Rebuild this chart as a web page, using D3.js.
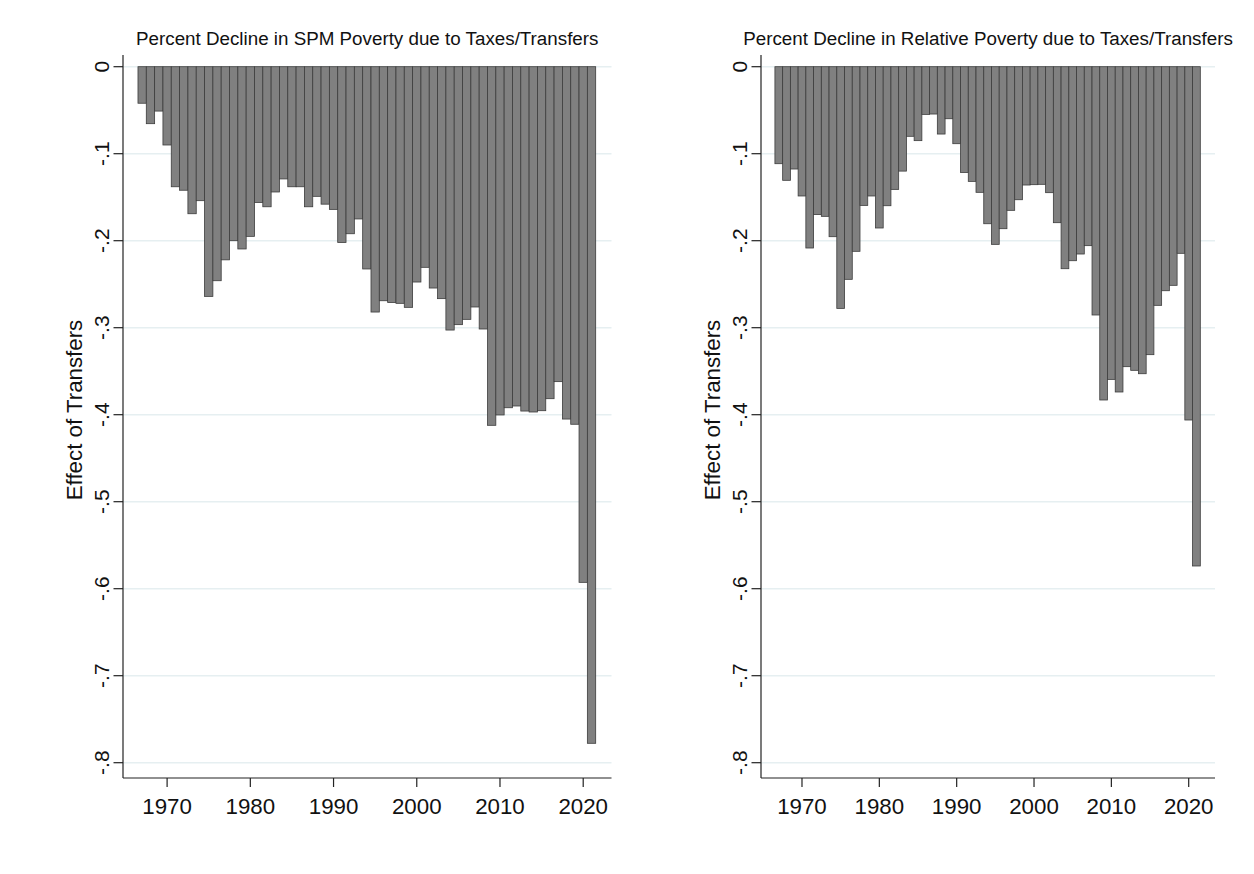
<!DOCTYPE html>
<html><head><meta charset="utf-8">
<script src="https://cdn.jsdelivr.net/npm/d3@7"></script>
<style>body{margin:0;background:#fff}svg{display:block;font-family:"Liberation Sans",Arial,sans-serif}</style>
</head><body><svg id="c" width="1254" height="874"></svg>
<script>
const years = d3.range(1967, 2022);
const spmValues = [-0.042,-0.0655,-0.051,-0.090,-0.138,-0.142,-0.169,-0.154,-0.264,-0.246,
 -0.222,-0.200,-0.2095,-0.195,-0.156,-0.161,-0.144,-0.129,-0.138,-0.138,
 -0.161,-0.149,-0.158,-0.164,-0.202,-0.192,-0.175,-0.2325,-0.282,-0.269,
 -0.271,-0.272,-0.2766,-0.2475,-0.2306,-0.2544,-0.2666,-0.3027,-0.2965,-0.2904,
 -0.2762,-0.3015,-0.4122,-0.4003,-0.392,-0.390,-0.3958,-0.3969,-0.3954,-0.3816,
 -0.362,-0.405,-0.411,-0.5927,-0.7777];
const relValues = [-0.1115,-0.1306,-0.1176,-0.1486,-0.2084,-0.170,-0.172,-0.1954,-0.2778,-0.2444,
 -0.2122,-0.1594,-0.1486,-0.1854,-0.1598,-0.141,-0.120,-0.080,-0.085,-0.0548,
 -0.0544,-0.0774,-0.0598,-0.0885,-0.1215,-0.1318,-0.1444,-0.1805,-0.2042,-0.1862,
 -0.1651,-0.1529,-0.136,-0.1356,-0.1352,-0.1448,-0.1793,-0.2322,-0.223,-0.2153,
 -0.2057,-0.2854,-0.3831,-0.3594,-0.3739,-0.3448,-0.349,-0.3529,-0.331,-0.2743,
 -0.2575,-0.2513,-0.2145,-0.4061,-0.5739];
const yTicks = [0,-0.1,-0.2,-0.3,-0.4,-0.5,-0.6,-0.7,-0.8];
const yTickLabels = ["0","-.1","-.2","-.3","-.4","-.5","-.6","-.7","-.8"];
const xTicks = [1970,1980,1990,2000,2010,2020];
const titles = ["Percent Decline in SPM Poverty due to Taxes/Transfers","Percent Decline in Relative Poverty due to Taxes/Transfers"];
const yTitle = "Effect of Transfers";

const svg = d3.select("#c");
const panels = [
  {vals: spmValues, title: titles[0], x0: 123, x1: 611.5},
  {vals: relValues, title: titles[1], x0: 761, x1: 1215}
];
const yTop = 55, yBottom = 778;
const y = d3.scaleLinear().domain([0,-0.8]).range([66.7,762.7]);

panels.forEach(p => {
  const x = d3.scaleLinear().domain([1964.7, 2023.4]).range([p.x0, p.x1]);
  const g = svg.append("g");
  g.selectAll("line.grid").data(yTicks).join("line")
    .attr("x1", p.x0).attr("x2", p.x1)
    .attr("y1", d => y(d)).attr("y2", d => y(d))
    .attr("stroke", "#e6eff1").attr("stroke-width", 1.5);
  g.selectAll("rect.bar").data(years.map((yr,i)=>({yr, v:p.vals[i]}))).join("rect")
    .attr("x", d => x(d.yr-0.5)).attr("width", d => x(d.yr+0.5)-x(d.yr-0.5))
    .attr("y", y(0)).attr("height", d => y(d.v)-y(0))
    .attr("fill", "#808080").attr("stroke", "#3c3c3c").attr("stroke-width", 0.8);
  g.append("line").attr("x1", p.x0).attr("x2", p.x0).attr("y1", yTop).attr("y2", yBottom)
    .attr("stroke", "#222").attr("stroke-width", 1.2);
  g.selectAll("line.yt").data(yTicks).join("line")
    .attr("x1", p.x0-9.5).attr("x2", p.x0).attr("y1", d=>y(d)).attr("y2", d=>y(d))
    .attr("stroke", "#222").attr("stroke-width", 1.2);
  g.selectAll("text.yl").data(yTicks).join("text")
    .attr("transform", d => `translate(${p.x0-14.5},${y(d)}) rotate(-90)`)
    .attr("text-anchor", "middle").attr("font-size", 21).attr("fill", "#111")
    .text((d,i) => yTickLabels[i]);
  g.append("line").attr("x1", p.x0).attr("x2", p.x1).attr("y1", yBottom).attr("y2", yBottom)
    .attr("stroke", "#222").attr("stroke-width", 1.2);
  g.selectAll("line.xt").data(xTicks).join("line")
    .attr("x1", d=>x(d)).attr("x2", d=>x(d)).attr("y1", yBottom).attr("y2", yBottom+9)
    .attr("stroke", "#222").attr("stroke-width", 1.2);
  g.selectAll("text.xl").data(xTicks).join("text")
    .attr("x", d=>x(d)).attr("y", 814)
    .attr("text-anchor", "middle").attr("font-size", 22.3).attr("fill", "#111")
    .text(d => d);
  g.append("text").attr("x", (p.x0+p.x1)/2).attr("y", 45)
    .attr("text-anchor", "middle").attr("font-size", 18.8).attr("fill", "#111").text(p.title);
  g.append("text").attr("transform", `translate(${p.x0-41},410) rotate(-90)`)
    .attr("text-anchor", "middle").attr("font-size", 22.3).attr("fill", "#111").text(yTitle);
});
</script></body></html>
